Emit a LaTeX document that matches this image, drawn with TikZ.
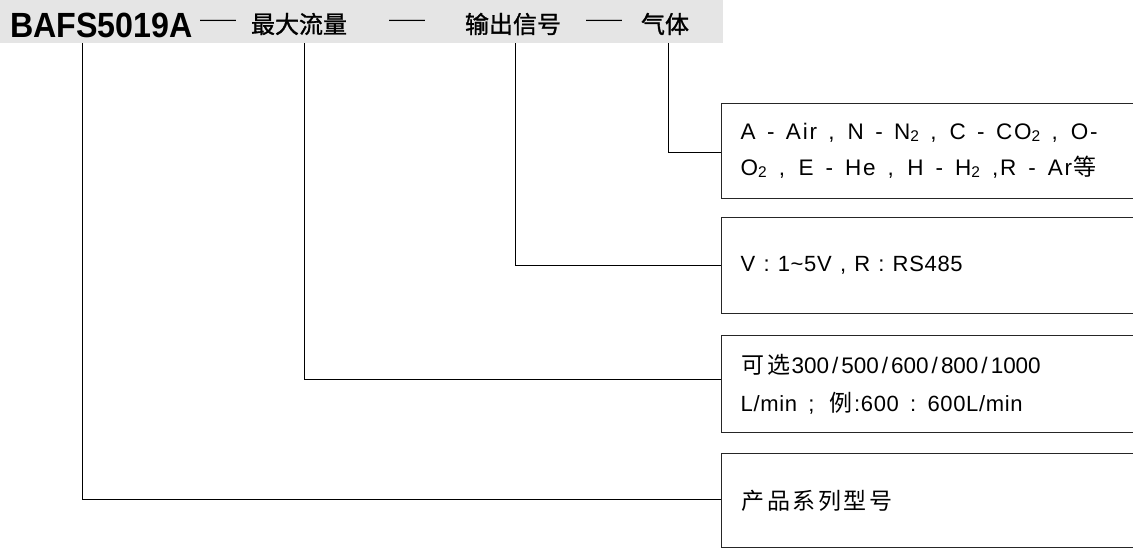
\documentclass[tikz,border=0pt]{standalone}
\usepackage{fontspec}
\setmainfont{Liberation Sans}
\newfontfamily\cjk{Noto Sans CJK SC}
\newfontfamily\cjkh{Noto Sans CJK SC}[FakeBold=1.2]
\newcommand\sbs[1]{\raisebox{-2pt}{\fontsize{15.5}{15.5}\selectfont #1}}
\ExplSyntaxOn
\NewDocumentCommand\g{O{12.45pt}m}{\tl_map_inline:nn{#2}{\makebox[#1]{##1}}}
\NewDocumentCommand\G{m}{\tl_map_inline:nn{#1}{\makebox[25.5pt]{\cjk\fontsize{23}{23}\selectfont ##1}}}
\ExplSyntaxOff
\newcommand\fitln[2]{\makebox[#1][s]{\spaceskip=0.25em plus 1fil\relax #2}}
\begin{document}
\begin{tikzpicture}[x=1pt,y=-1pt,
  box/.style={draw=black!85, line width=1.3pt, anchor=north west, minimum width=440pt,
    minimum height=95pt, inner xsep=19pt, text width=402pt, align=left,
    font=\fontsize{22.5}{36}\selectfont\addfontfeature{LetterSpace=8}},
  conn/.style={draw=black, line width=1pt},
  hd/.style={inner sep=0pt, font=\cjkh\fontsize{24}{24}\selectfont},
  dsh/.style={inner sep=0pt, font=\fontsize{18}{18}\selectfont}]
\useasboundingbox (0,0) rectangle (1133,549);
\clip (0,0) rectangle (1133,549);
\fill[black!10] (0,0) rectangle (723,43);
\node[inner sep=0pt, anchor=base west, font=\fontsize{35}{35}\selectfont\bfseries] (code) at (10,37) {\scalebox{0.92}[1]{BAFS5019A}};
\node[dsh] (d1) at (218,23) {——};
\node[hd] (flow) at (299,24) {最大流量};
\node[dsh] (d2) at (407,23) {——};
\node[hd] (sig) at (513,24) {输出信号};
\node[dsh] (d3) at (604,23) {——};
\node[hd] (gas) at (665,24) {气体};

\node[box] (b1) at (721,103) {\fitln{357pt}{A - Air , N - N\sbs{2} , C - CO\sbs{2} , O-}\\
  \fitln{357pt}{O\sbs{2} , E - He , H - H\sbs{2} ,R - Ar\G{等}}};
\node[box, minimum height=96pt, font=\fontsize{22}{36}\selectfont\addfontfeature{LetterSpace=3}] (b2) at (721,217) {\fitln{222pt}{V : 1\textasciitilde5V , R : RS485}};
\node[box, minimum height=97pt, font=\fontsize{22.5}{38}\selectfont\addfontfeature{LetterSpace=8}] (b3) at (721,335) {\G{可选}\g{300/500/600/800/1000}\\
  {\fontsize{22}{38}\selectfont\addfontfeature{LetterSpace=3}\fitln{282pt}{L/min ; \G{例}:600 : 600L/min}}};
\node[box, minimum height=94pt] (b4) at (721,453) {\G{产品系列型号}};

\coordinate (t1) at (668,43);
\coordinate (t2) at (515,43);
\coordinate (t3) at (304,43);
\coordinate (t4) at (82,43);
\draw[conn] (t1) |- ([yshift=-1.5pt]b1.west);
\draw[conn] (t2) |- (b2.west);
\draw[conn] (t3) |- ([yshift=4.5pt]b3.west);
\draw[conn] (t4) |- ([yshift=1pt]b4.west);
\end{tikzpicture}
\end{document}
